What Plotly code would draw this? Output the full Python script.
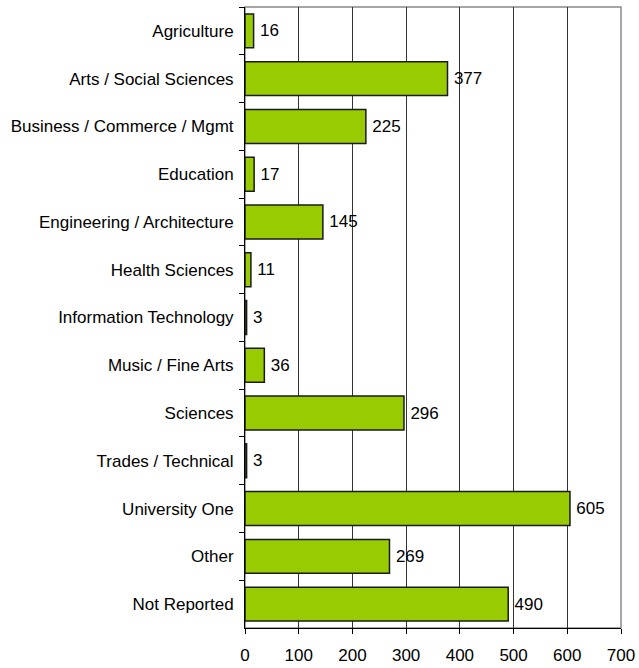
import plotly.graph_objects as go

categories = ["Agriculture", "Arts / Social Sciences", "Business / Commerce / Mgmt",
              "Education", "Engineering / Architecture", "Health Sciences",
              "Information Technology", "Music / Fine Arts", "Sciences",
              "Trades / Technical", "University One", "Other", "Not Reported"]
values = [16, 377, 225, 17, 145, 11, 3, 36, 296, 3, 605, 269, 490]
x_ticks = [0, 100, 200, 300, 400, 500, 600, 700]

FONT = "Liberation Sans, Arial, sans-serif"

fig = go.Figure(go.Bar(
    y=categories, x=values, orientation="h",
    marker=dict(color="#99CC00", line=dict(color="#1a1a1a", width=1.5)),
    text=["\u2009" + str(v) for v in values], textposition="outside",
    textfont=dict(family=FONT, size=17, color="black"),
    cliponaxis=False,
))

fig.update_layout(
    width=639, height=668,
    margin=dict(l=245, r=18, t=7, b=40),
    paper_bgcolor="white", plot_bgcolor="white",
    bargap=0.29,
    showlegend=False,
    font=dict(family=FONT, size=17, color="black"),
    xaxis=dict(range=[0, 700], tickvals=x_ticks, showgrid=True, gridcolor="#333333",
               gridwidth=1, zeroline=False, showline=True, linecolor="black", linewidth=1,
               ticks="outside", ticklen=5, tickcolor="black", automargin=False,
               ticklabelstandoff=7, tickfont=dict(family=FONT, size=17)),
    yaxis=dict(autorange="reversed", showline=True, linecolor="black", linewidth=1,
               ticks="outside", ticklen=5, tickcolor="black", tickson="boundaries",
               showgrid=False, zeroline=False, automargin=False, ticklabelstandoff=7,
               tickfont=dict(family=FONT, size=17)),
    shapes=[dict(type="rect", xref="paper", yref="paper", x0=0, x1=1, y0=0, y1=1,
                 line=dict(color="#888888", width=1.5), layer="below")],
)

# remove the browser's default body margin so the figure fills the window exactly
fig.write_html("out.html",
               config={"displayModeBar": False},
               post_script="document.body.style.margin='0';document.body.style.overflow='hidden';")
